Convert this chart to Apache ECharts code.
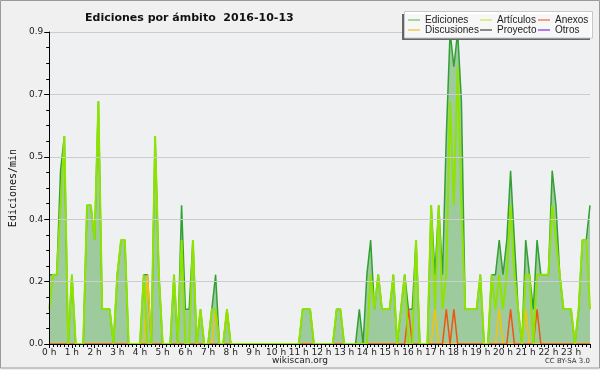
<!DOCTYPE html>
<html><head><meta charset="utf-8">
<script src="https://cdn.jsdelivr.net/npm/echarts@6/dist/echarts.min.js"></script>
<style>html,body{margin:0;padding:0;background:#f0f0f0}#c{width:600px;height:370px}</style>
</head><body><div id="c"></div>
<script>
// 10-minute samples, 00:00 .. 23:50 (edits per minute)
const stepMinutes = 10;
const seriesNames = ['Ediciones', 'Artículos', 'Anexos', 'Discusiones', 'Proyecto', 'Otros'];
const legendColors = ['#88cc88', '#ccee66', '#ee8855', '#eecc55', '#666666', '#9955ee'];
const ediciones = [
  0.2,0.2,0.2,0.5,0.6,0,0.2,0,0,0,0.4,0.4,
  0.3,0.7,0.1,0.1,0.1,0,0.2,0.3,0.3,0,0,0,
  0,0.2,0.2,0,0.6,0.2,0,0,0,0.2,0,0.4,
  0.1,0.1,0.3,0,0.1,0,0,0.1,0.2,0,0,0.1,
  0,0,0,0,0,0,0,0,0,0,0,0,
  0,0,0,0,0,0,0,0.1,0.1,0.1,0,0,
  0,0,0,0,0.1,0.1,0,0,0,0,0.1,0,
  0.2,0.3,0.1,0.2,0.1,0.1,0.1,0.2,0,0.1,0.2,0.1,
  0.1,0.3,0,0,0,0.4,0.2,0.4,0.2,0.6,0.9,0.8,
  0.9,0.7,0.1,0.1,0.1,0.1,0.2,0,0,0.2,0.2,0.3,
  0.2,0.3,0.5,0.3,0.1,0,0.3,0.2,0.1,0.3,0.2,0.2,
  0.2,0.5,0.4,0.2,0.1,0.1,0.1,0,0.1,0.3,0.3,0.4
];
const articulos = [
  0.1,0.2,0.2,0.4,0.6,0,0.2,0,0,0,0.4,0.4,
  0.3,0.7,0.1,0.1,0.1,0,0.2,0.3,0.3,0,0,0,
  0,0.2,0,0,0.6,0.2,0,0,0,0.2,0,0.3,
  0,0,0.3,0,0.1,0,0,0.1,0.1,0,0,0.1,
  0,0,0,0,0,0,0,0,0,0,0,0,
  0,0,0,0,0,0,0,0.1,0.1,0.1,0,0,
  0,0,0,0,0.1,0.1,0,0,0,0,0,0,
  0,0.2,0.1,0.2,0.1,0.1,0.1,0.2,0,0.1,0.2,0,
  0,0.3,0,0,0,0.4,0.1,0.4,0.1,0.2,0.7,0.4,
  0.8,0.4,0.1,0.1,0.1,0.1,0.2,0,0,0.2,0.1,0.2,
  0.1,0.2,0.4,0.2,0.1,0,0.2,0.2,0,0.2,0.2,0.2,
  0.2,0.4,0.3,0.2,0.1,0.1,0.1,0,0.1,0.3,0.3,0.1
];
const anexos = [
  0,0,0,0,0,0,0,0,0,0,0,0,
  0,0,0,0,0,0,0,0,0,0,0,0,
  0,0,0,0,0,0,0,0,0,0,0,0,
  0,0,0,0,0,0,0,0,0,0,0,0,
  0,0,0,0,0,0,0,0,0,0,0,0,
  0,0,0,0,0,0,0,0,0,0,0,0,
  0,0,0,0,0,0,0,0,0,0,0,0,
  0,0,0,0,0,0,0,0,0,0,0,0.1,
  0,0,0,0,0,0,0,0,0,0.1,0,0.1,
  0,0,0,0,0,0,0,0,0,0,0,0,
  0,0,0.1,0,0,0,0,0,0,0.1,0,0,
  0,0,0,0,0,0,0,0,0,0,0,0
];
const discusiones = [
  0,0,0,0,0,0,0,0,0,0,0,0,
  0,0,0,0,0,0,0,0,0,0,0,0,
  0,0,0.2,0,0,0,0,0,0,0,0,0,
  0,0,0,0,0,0,0,0,0.1,0,0,0.1,
  0,0,0,0,0,0,0,0,0,0,0,0,
  0,0,0,0,0,0,0,0,0,0,0,0,
  0,0,0,0,0,0,0,0,0,0,0,0,
  0,0,0,0,0,0,0,0,0,0,0,0,
  0,0,0,0,0,0,0.1,0,0,0,0,0,
  0,0,0,0,0,0,0,0,0,0,0,0.1,
  0,0,0,0,0,0,0.1,0,0,0,0,0,
  0,0,0,0,0,0,0,0,0,0,0,0
];
const proyecto = [];
const otros = [];
const yTickLabels = ['0.0','0.2','0.4','0.5','0.7','0.9'];

const toPts = arr => arr.map((v, i) => [i * stepMinutes / 60, v]);
const lastHour = (ediciones.length - 1) * stepMinutes / 60;

const chart = echarts.init(document.getElementById('c'), null, {renderer: 'canvas'});
const FONT = 'DejaVu Sans';
const LFONT = 'Liberation Sans';
const lineSeries = (name, data, color, width, z, extra) => Object.assign({
  name, type: 'line', data: toPts(data), symbol: 'none', z,
  lineStyle: {color, width}, itemStyle: {color}, animation: false
}, extra || {});
const legendItem = k => ({name: seriesNames[k], icon: 'rect',
  itemStyle: {color: legendColors[k], borderWidth: 0}, lineStyle: {color: legendColors[k], width: 1}});
const legendCol = (left, a, b) => ({
  left, top: 15, orient: 'vertical', itemGap: 0, itemWidth: 12, itemHeight: 1.5, padding: 0, z: 20,
  textStyle: {fontFamily: LFONT, fontSize: 10, color: '#222', lineHeight: 10},
  data: [legendItem(a), legendItem(b)]
});

chart.setOption({
  backgroundColor: '#f0f0f0',
  animation: false,
  title: {
    text: 'Ediciones por ámbito  2016-10-13',
    left: 80, top: 8,
    textStyle: {fontFamily: FONT, fontSize: 11, fontWeight: 'bold', color: '#111'}
  },
  grid: {left: 46, right: 10, top: 32, bottom: 26, show: true, backgroundColor: '#eef0f2', borderWidth: 0},
  xAxis: {
    type: 'value', min: 0, max: lastHour, interval: 1, z: 5,
    axisLine: {lineStyle: {color: '#000', width: 1}},
    axisTick: {length: 4, lineStyle: {color: '#000'}},
    minorTick: {show: true, splitNumber: 6, length: 3, lineStyle: {color: '#000'}},
    splitLine: {show: false},
    axisLabel: {
      fontFamily: FONT, fontSize: 9, color: '#222', margin: 4,
      formatter: v => Math.abs(v - Math.round(v)) < 1e-6 ? Math.round(v) + ' h' : ''
    }
  },
  yAxis: {
    type: 'value', min: 0, max: 0.9, interval: 0.18, z: 5,
    name: 'Ediciones/min', nameLocation: 'middle', nameGap: 30,
    nameTextStyle: {fontFamily: 'DejaVu Sans Mono', fontSize: 10, color: '#111'},
    axisLine: {show: true, lineStyle: {color: '#000', width: 1}},
    axisTick: {show: true, length: 5, lineStyle: {color: '#000'}},
    minorTick: {show: true, splitNumber: 4, length: 3, lineStyle: {color: '#000'}},
    splitLine: {show: true, lineStyle: {color: '#cccccc', width: 1}},
    axisLabel: {
      fontFamily: FONT, fontSize: 9, color: '#222', margin: 6,
      formatter: v => yTickLabels[Math.round(v / 0.18)]
    }
  },
  legend: [legendCol(408, 0, 3), legendCol(480, 1, 4), legendCol(538, 2, 5)],
  graphic: [
    {type: 'rect', z: 0, silent: true, shape: {x: 0.5, y: 0.5, width: 599, height: 367.5}, style: {fill: 'none', stroke: '#9a9a9a', lineWidth: 1}},
    {type: 'rect', z: 15, silent: true, shape: {x: 402, y: 14, width: 188, height: 26}, style: {fill: '#666'}},
    {type: 'rect', z: 16, silent: true, shape: {x: 404.5, y: 11.5, width: 188, height: 26.5}, style: {fill: 'rgba(255,255,255,0.95)', stroke: '#c8c8c8', lineWidth: 1}},
    {type: 'text', z: 16, silent: true, left: 'center', top: 356, style: {text: 'wikiscan.org', font: '9px "DejaVu Sans"', fill: '#222'}},
    {type: 'text', z: 16, silent: true, right: 10, top: 358, style: {text: 'CC BY-SA 3.0', font: '7px "DejaVu Sans"', fill: '#333'}}
  ],
  series: [
    lineSeries(seriesNames[0], ediciones, '#33a033', 1.5, 2, {areaStyle: {color: '#9ecb9e', opacity: 1}}),
    lineSeries(seriesNames[3], discusiones, '#f5c400', 1.5, 3),
    lineSeries(seriesNames[2], anexos, '#ee5511', 1.5, 3),
    lineSeries(seriesNames[4], proyecto, '#555555', 1.5, 3),
    lineSeries(seriesNames[5], otros, '#8833ee', 1.5, 3),
    lineSeries(seriesNames[1], articulos, '#8ee400', 2, 4)
  ]
});
</script></body></html>
